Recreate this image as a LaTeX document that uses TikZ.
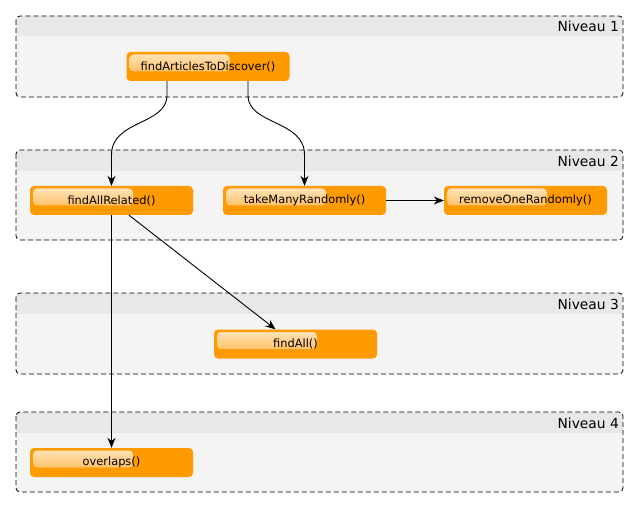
\documentclass[tikz,border=0pt]{standalone}
\usepackage{fontspec}
\setmainfont{DejaVu Sans}
\usetikzlibrary{arrows.meta}

\definecolor{methodfill}{HTML}{FF9A00}
\definecolor{glossTop}{HTML}{FFE6C2}
\definecolor{glossBot}{HTML}{FFB03C}
\definecolor{laneBody}{HTML}{F4F4F4}
\definecolor{laneHead}{HTML}{E8E8E8}

\tikzset{
  method/.style={
    fill=methodfill, rounded corners=4pt,
    minimum width=163pt, minimum height=29pt, inner sep=0pt,
    font=\fontsize{11.4}{13}\selectfont,
    path picture={
      \shade[top color=glossTop, bottom color=glossBot, rounded corners=4pt]
        ([shift={(3,2.5)}]path picture bounding box.north west)
        rectangle ([shift={(103,19.5)}]path picture bounding box.north west);
    }
  },
  lanetitle/.style={anchor=east, inner sep=0pt, font=\fontsize{13.8}{15}\selectfont},
  laneborder/.style={draw=black, line width=0.8pt, dash pattern=on 5pt off 3pt, rounded corners=4pt},
  arr/.style={draw=black, line width=0.9pt, -{Stealth[length=10pt,width=8pt]}}
}

% lane: top y, header bottom y, bottom y, name, label
\newcommand{\drawlane}[5]{%
  \begin{scope}
    \clip[rounded corners=4pt] (16,#1) rectangle (623,#3);
    \fill[laneBody] (16,#1) rectangle (623,#3);
    \fill[laneHead] (16,#1) rectangle (623,#2);
  \end{scope}
  \draw[laneborder] (16,#1) rectangle (623,#3);
  \node[lanetitle] (#4) at (619,{(#1+#2)/2+0.5}) {#5};
}

\begin{document}
\begin{tikzpicture}[x=1pt, y=-1pt]
  \useasboundingbox (0,0) rectangle (638,508);

  % swimlanes
  \drawlane{16}{36}{97}{n1}{Niveau 1}
  \drawlane{150}{171}{240}{n2}{Niveau 2}
  \drawlane{293}{314}{374}{n3}{Niveau 3}
  \drawlane{412}{433}{492}{n4}{Niveau 4}

  % methods
  \node[method] (fa) at (208,66.5)   {findArticlesToDiscover()};
  \node[method] (fr) at (111.5,200.5) {findAllRelated()};
  \node[method] (tm) at (304.5,200.5) {takeManyRandomly()};
  \node[method] (ro) at (525.5,200.5) {removeOneRandomly()};
  \node[method] (fl) at (295.5,344)   {findAll()};
  \node[method] (ov) at (111.5,462.5) {overlaps()};

  % calls
  \draw[arr] ([xshift=-41pt]fa.south) -- ++(0,14)
    .. controls ++(0,30) and ([yshift=66pt]fr.north) .. ([yshift=31pt]fr.north)
    -- (fr.north);
  \draw[arr] ([xshift=40pt]fa.south) -- ++(0,14)
    .. controls ++(0,30) and ([yshift=66pt]tm.north) .. ([yshift=31pt]tm.north)
    -- (tm.north);
  \draw[arr] (tm.east) -- (ro.west);
  \draw[arr] ([xshift=17.5pt]fr.south) -- ([xshift=-20pt]fl.north);
  \draw[arr] (fr.south) -- (ov.north);
\end{tikzpicture}
\end{document}
